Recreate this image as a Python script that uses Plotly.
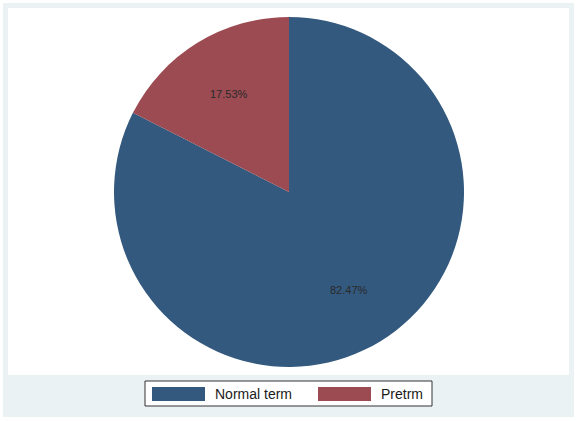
import math
import plotly.graph_objects as go

# data
labels = ["Normal term", "Pretrm"]
shares = [82.47, 17.53]
colors = ["#33597e", "#9c4b52"]

W, H = 577, 421


def px(x):
    return x / W


def py(y):
    return 1 - y / H


# pie geometry (pixels)
cx, cy, r = 289, 192, 175

fig = go.Figure()
fig.add_trace(go.Pie(
    labels=labels,
    values=shares,
    sort=False,
    direction="clockwise",
    rotation=0,
    marker=dict(colors=colors, line=dict(width=0)),
    textinfo="none",
    hoverinfo="label+percent",
    showlegend=False,
    domain=dict(x=[px(cx - r), px(cx + r)], y=[py(cy + r), py(cy - r)]),
))

# slice labels at 2/3 of the radius, middle of each slice
annotations = []
total = sum(shares)
start = 0.0
for lab, v in zip(labels, shares):
    mid = (start + v / 2) / total * 2 * math.pi
    start += v
    lx = cx + 0.66 * r * math.sin(mid)
    ly = cy - 0.66 * r * math.cos(mid)
    annotations.append(dict(
        x=px(lx), y=py(ly), xref="paper", yref="paper",
        xanchor="center", yanchor="middle",
        text=f"{v:.2f}%", showarrow=False,
        font=dict(size=11, color="#2a2a2a", family="Liberation Sans, Arial"),
    ))

shapes = [
    # outer graph region
    dict(type="rect", xref="paper", yref="paper", layer="below",
         x0=px(3), x1=px(574), y0=py(417), y1=py(3),
         fillcolor="#eaf2f3", line=dict(width=0)),
    # plot region
    dict(type="rect", xref="paper", yref="paper", layer="below",
         x0=px(8), x1=px(569), y0=py(375), y1=py(8),
         fillcolor="white", line=dict(width=0)),
    # legend box
    dict(type="rect", xref="paper", yref="paper", layer="below",
         x0=px(145), x1=px(432), y0=py(406), y1=py(381),
         fillcolor="white", line=dict(width=1, color="#333333")),
]

# hand-made legend with wide swatches
swatch_x = [152, 318]
for lab, col, sx in zip(labels, colors, swatch_x):
    shapes.append(dict(type="rect", xref="paper", yref="paper",
                       x0=px(sx), x1=px(sx + 53), y0=py(401), y1=py(387),
                       fillcolor=col, line=dict(width=0)))
    annotations.append(dict(
        x=px(sx + 61), y=py(394), xref="paper", yref="paper",
        xanchor="left", yanchor="middle", text=lab, showarrow=False,
        font=dict(size=14, color="#1a1a1a", family="Liberation Sans, Arial"),
    ))

fig.update_layout(
    width=W, height=H,
    margin=dict(l=0, r=0, t=0, b=0),
    paper_bgcolor="white",
    shapes=shapes,
    annotations=annotations,
    showlegend=False,
)

fig.write_html("out.html", config={"displayModeBar": False},
               post_script="document.body.style.margin='0';")
